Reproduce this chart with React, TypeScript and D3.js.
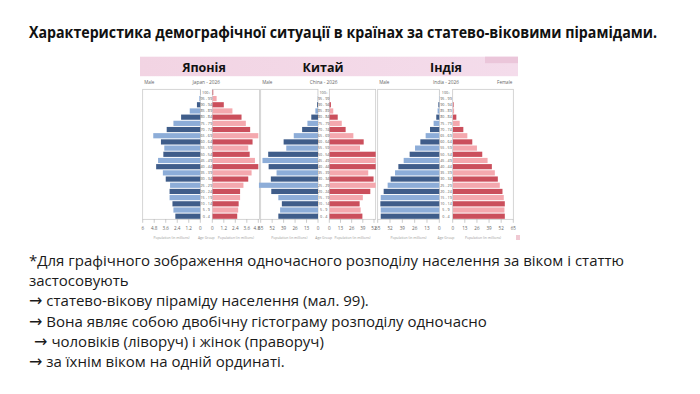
import React from 'react';
import * as d3 from 'd3';

// age groups, bottom to top
const ageGroups = [
	'0 - 4', '5 - 9', '10 - 14', '15 - 19', '20 - 24', '25 - 29', '30 - 34', '35 - 39', '40 - 44', '45 - 49',
	'50 - 54', '55 - 59', '60 - 64', '65 - 69', '70 - 74', '75 - 79', '80 - 84', '85 - 89', '90 - 94', '95 - 99', '100+',
];

// population, millions
const japanMale = [2.6, 2.8, 2.9, 3.2, 3.2, 3.15, 3.6, 3.9, 4.6, 4.4, 3.85, 3.75, 4.1, 4.9, 3.5, 2.8, 2.0, 1.1, 0.35, 0.1, 0.02];
const japanFemale = [2.6, 2.7, 2.75, 2.9, 2.9, 3.25, 3.75, 4.1, 4.8, 4.45, 3.9, 3.75, 4.2, 4.8, 3.95, 3.5, 3.05, 2.1, 1.2, 0.45, 0.1];
const chinaMale = [45, 43, 41, 45, 53, 67, 53.5, 47, 56, 63, 56.5, 36, 39, 27.5, 18, 12, 7.6, 3, 1, 0.3, 0.05];
const chinaFemale = [38.5, 36.5, 35.3, 39, 47.7, 60, 51.5, 45.3, 55, 61, 55, 35.7, 40, 28, 19, 14.5, 9.8, 4.6, 1.9, 0.4, 0.05];
const indiaMale = [61.8, 61.8, 62.2, 61.8, 58.7, 54.5, 51.3, 46.7, 43.2, 37.6, 31.3, 25.6, 20, 14.4, 9.8, 6, 3.2, 1.8, 1, 0.3, 0.05];
const indiaFemale = [55.9, 55.5, 55.9, 54.8, 53.4, 50.5, 48.4, 45.2, 42, 37.4, 31.7, 26, 21, 15.7, 11.4, 7.5, 3.9, 1.5, 1, 0.3, 0.05];

const japanTicksL = [0, 1.2, 2.4, 3.6, 4.8, 6];
const japanTicksR = [0, 1.2, 2.4, 3.6, 4.8];
const chinaTicksL = [0, 13, 26, 39, 52, 65];
const chinaTicksR = [0, 13, 26, 39, 52];
const indiaTicksL = [0, 13, 26, 39, 52, 65];
const indiaTicksR = [0, 13, 26, 39, 52, 65];

const titles = ['Японія', 'Китай', 'Індія'];
const captions = ['Japan - 2026', 'China - 2026', 'India - 2026'];

const heading = 'Характеристика демографічної ситуації в країнах за статево-віковими пірамідами.';
// [lead, rest] — lead holds the arrow where a line has one
const bodyLines: [string, string][] = [
	['', '*Для графічного зображення одночасного розподілу населення за віком і статтю'],
	['', 'застосовують'],
	['→', ' статево-вікову піраміду населення (мал. 99).'],
	['→', ' Вона являє собою двобічну гістограму розподілу одночасно'],
	[' →', ' чоловіків (ліворуч) і жінок (праворуч)'],
	['→', ' за їхнім віком на одній ординаті.'],
];

const darkBlue = '#3f5d8a';
const lightBlue = '#8dadd8';
const darkRed = '#cb4f5c';
const lightRed = '#f4a8ae';

const top = 89.3;
const bottom = 219.3;

const panels = [
	{ male: japanMale, female: japanFemale, tl: japanTicksL, tr: japanTicksR, x0: 142.7, m0: 200.3, m1: 212.3, x1: 259.5, dl: 6, dr: 4.8, wr: 46, tx: 204, female_lbl: false },
	{ male: chinaMale, female: chinaFemale, tl: chinaTicksL, tr: chinaTicksR, x0: 260.7, m0: 318, m1: 329.3, x1: 375.7, dl: 65, dr: 52, wr: 44.7, tx: 323, female_lbl: false },
	{ male: indiaMale, female: indiaFemale, tl: indiaTicksL, tr: indiaTicksR, x0: 377.7, m0: 439.3, m1: 452.7, x1: 513.3, dl: 65, dr: 65, wr: 60.6, tx: 446, female_lbl: true },
];

const fmt = (v: number) => (v === 0 ? '0' : String(v));

const App: React.FC = () => {
	const y = d3
		.scaleBand<string>()
		.domain([...ageGroups].reverse())
		.range([top, bottom])
		.paddingInner(0.16)
		.paddingOuter(0.08);

	const small = "'Liberation Sans Narrow', 'Open Sans', sans-serif";

	return (
		<svg width={700} height={394} style={{ position: 'absolute', left: 0, top: 0, background: '#fff' }}>
			<defs>
				<linearGradient id="band" x1="0" x2="1" y1="0" y2="0">
					<stop offset="0" stopColor="#f2d4e3" />
					<stop offset="1" stopColor="#f4dceb" />
				</linearGradient>
				{panels.map((p, i) => (
					<clipPath key={i} id={'clipR' + i}>
						<rect x={p.m1} y={top - 2} width={p.x1 - p.m1} height={bottom - top + 4} />
					</clipPath>
				))}
			</defs>

			<text x={29} y={38} fontFamily="'Open Sans', sans-serif" fontWeight={700} fontSize={16} textLength={628} lengthAdjust="spacingAndGlyphs" fill="#111">
				{heading}
			</text>

			<rect x={140} y={56.7} width={378} height={19.5} fill="url(#band)" />
			<rect x={485} y={56.7} width={33} height={6.5} fill="#ebc6da" />

			{panels.map((p, i) => {
				const xl = d3.scaleLinear().domain([0, p.dl]).range([p.m0, p.x0]);
				const xr = d3.scaleLinear().domain([0, p.dr]).range([p.m1, p.m1 + p.wr]);
				const mid = (p.m0 + p.m1) / 2;
				return (
					<g key={i}>
						<text x={p.tx} y={71.5} textAnchor="middle" fontFamily="'Open Sans', sans-serif" fontWeight={700} fontSize={12.5} fill="#111">
							{titles[i]}
						</text>
						<text x={p.x0 + 1.5} y={84} fontFamily={small} fontSize={4.5} fill="#666">
							Male
						</text>
						<text x={mid} y={84} textAnchor="middle" fontFamily={small} fontSize={4.8} fill="#666">
							{captions[i]}
						</text>
						{p.female_lbl && (
							<text x={p.x1 - 1} y={84} textAnchor="end" fontFamily={small} fontSize={4.5} fill="#666">
								Female
							</text>
						)}

						<rect x={p.x0} y={top} width={p.m0 - p.x0} height={bottom - top} fill="#fff" stroke="#c4c4c4" strokeWidth={0.7} />
						<rect x={p.m1} y={top} width={p.x1 - p.m1} height={bottom - top} fill="#fff" stroke="#c4c4c4" strokeWidth={0.7} />

						{p.male.map((v, j) => (
							<rect
								key={'m' + j}
								x={xl(v)}
								y={y(ageGroups[j])}
								width={p.m0 - xl(v)}
								height={y.bandwidth()}
								fill={j % 2 === 0 ? darkBlue : lightBlue}
							/>
						))}
						<g clipPath={`url(#clipR${i})`}>
							{p.female.map((v, j) => (
								<rect
									key={'f' + j}
									x={p.m1}
									y={y(ageGroups[j])}
									width={xr(v) - p.m1}
									height={y.bandwidth()}
									fill={j % 2 === 0 ? darkRed : lightRed}
								/>
							))}
						</g>

						{ageGroups.map((a) => (
							<text
								key={a}
								x={mid}
								y={(y(a) as number) + y.bandwidth() / 2 + 1.3}
								textAnchor="middle"
								fontFamily={small}
								fontSize={3.7}
								fill="#555"
							>
								{a}
							</text>
						))}

						{p.tl.map((t) => (
							<g key={'tl' + t}>
								<line x1={xl(t)} x2={xl(t)} y1={bottom} y2={bottom + 3.5} stroke="#999" strokeWidth={0.5} />
								<text x={xl(t)} y={229.5} textAnchor="middle" fontFamily={small} fontSize={4.6} fill="#666">
									{fmt(t)}
								</text>
							</g>
						))}
						{p.tr.map((t) => (
							<g key={'tr' + t}>
								<line x1={xr(t)} x2={xr(t)} y1={bottom} y2={bottom + 3.5} stroke="#999" strokeWidth={0.5} />
								<text x={xr(t) - (i === 0 && t === 4.8 ? 1.5 : 0)} y={229.5} textAnchor="middle" fontFamily={small} fontSize={4.6} fill="#666">
									{fmt(t)}
								</text>
							</g>
						))}

						<text x={(p.x0 + p.m0) / 2} y={239} textAnchor="middle" fontFamily={small} fontSize={3.4} fill="#999">
							Population (in millions)
						</text>
						<text x={mid} y={239} textAnchor="middle" fontFamily={small} fontSize={3.4} fill="#999">
							Age Group
						</text>
						<text x={(p.m1 + p.x1) / 2} y={239} textAnchor="middle" fontFamily={small} fontSize={3.4} fill="#999">
							Population (in millions)
						</text>
					</g>
				);
			})}
			<rect x={516} y={235} width={4} height={5} fill="#f0c9d3" />

			{bodyLines.map(([lead, rest], i) => (
				<text
					key={i}
					x={29}
					y={266 + i * 20.2}
					fontFamily="'Open Sans', sans-serif"
					fontSize={15}
					fill="#1a1a1a"
					style={{ whiteSpace: 'pre' }}
				>
					{lead && (
						<tspan fontFamily="'DejaVu Sans', sans-serif" fontSize={16}>
							{lead}
						</tspan>
					)}
					{rest}
				</text>
			))}
		</svg>
	);
};

export default App;
